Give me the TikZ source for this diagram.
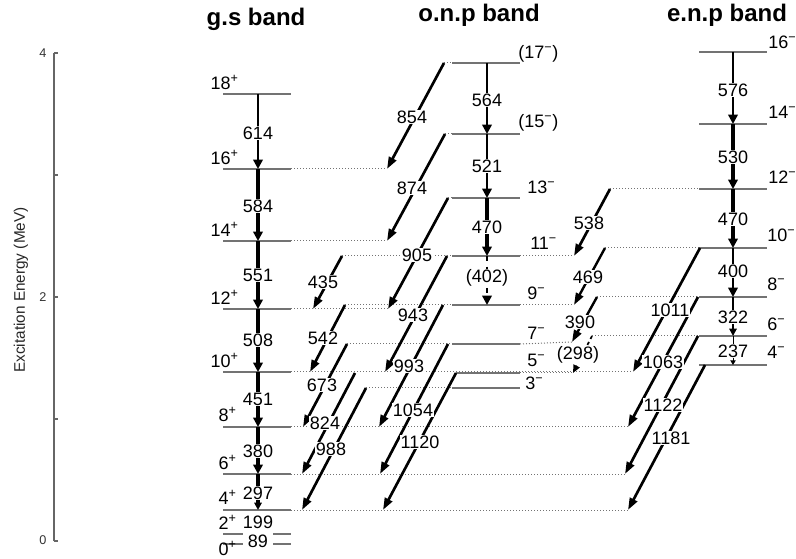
\documentclass[tikz,border=0pt]{standalone}
\usepackage{fontspec}
\setmainfont{Liberation Sans}
\usetikzlibrary{arrows.meta}
\newcommand{\spinp}{\textsuperscript{+}}
\newcommand{\spinm}{\textsuperscript{−}}
\begin{document}
\begin{tikzpicture}[x=0.75pt,y=-0.75pt,
  lev/.style={draw=black!55, line width=0.9pt},
  dots/.style={draw=black!55, line width=0.75pt, dash pattern=on 0.75pt off 1.5pt},
  inb/.style={draw=black, line width=#1, -{Triangle[length=7pt,width=7pt]}},
  inbm/.style={draw=black, line width=#1, -{Triangle[length=5.5pt,width=5.5pt]}},
  inbs/.style={draw=black, line width=#1, -{Triangle[length=3.5pt,width=4pt]}},
  xb/.style={draw=black, line width=2pt, -{Triangle[length=9pt,width=6pt]}},
  num/.style={font=\fontsize{13.5}{14}\selectfont, fill=white, inner sep=0.8pt},
  numc/.style={font=\fontsize{13.5}{14}\selectfont, inner sep=0pt},
  spinl/.style={font=\fontsize{13.5}{14}\selectfont, inner sep=0pt, anchor=east},
  spinr/.style={font=\fontsize{13.5}{14}\selectfont, inner sep=0pt, anchor=west},
  ttl/.style={font=\fontsize{18}{20}\selectfont\bfseries, inner sep=0pt, anchor=base},
  axisline/.style={draw=black!60, line width=0.8pt},
  tlab/.style={font=\fontsize{9.5}{10}\selectfont, text=black!80, inner sep=0pt},
]
\useasboundingbox (0,0) rectangle (796,559);
\fill[white] (0,0) rectangle (796,559);

% ---------- axis ----------
\coordinate (ax0) at (54,541);
\coordinate (ax4) at (54,53);
\draw[axisline] (ax0) -- (ax4);
\foreach \y in {53,175,297,419,541} \draw[axisline] (54,\y) -- (58,\y);
\node[tlab] (t4) at (43,53) {4};
\node[tlab] (t2) at (43,297) {2};
\node[tlab] (t0) at (43,540) {0};
\node[rotate=90, font=\fontsize{11.5}{12}\selectfont, text=black!85] (ylab) at (21,290) {Excitation Energy (MeV)};

% ---------- titles ----------
\node[ttl] (tg) at (256,26) {g.s band};
\node[ttl] (to) at (479,22) {o.n.p band};
\node[ttl] (te) at (727,22) {e.n.p band};

% ---------- level coordinates ----------
\foreach \n/\y in {G18/94,G16/169,G14/241,G12/309,G10/372,G8/427,G6/474,G4/510,G2/534,G0/544}
  {\coordinate (\n-L) at (223,\y); \coordinate (\n-R) at (291,\y); \coordinate (\n-M) at (258,\y);}
\foreach \n/\y in {O17/63,O15/134,O13/198,O11/256,O9/305,O7/344,O5/373,O3/388}
  {\coordinate (\n-L) at (452,\y); \coordinate (\n-R) at (520,\y); \coordinate (\n-M) at (487,\y);}
\foreach \n/\y in {E16/52,E14/124,E12/189,E10/248,E8/297,E6/336,E4/365}
  {\coordinate (\n-L) at (699,\y); \coordinate (\n-R) at (767,\y); \coordinate (\n-M) at (733,\y);}

% ---------- interband arrow end points ----------
\coordinate (s854) at (444,63);   \coordinate (e854) at (387,169);
\coordinate (s874) at (445,134);  \coordinate (e874) at (387,241);
\coordinate (s905) at (448,198);  \coordinate (e905) at (388,309);
\coordinate (s943) at (447,256);  \coordinate (e943) at (385,372);
\coordinate (s993) at (443,305);  \coordinate (e993) at (379,427);
\coordinate (s1054) at (448,344); \coordinate (e1054) at (380,474);
\coordinate (s1120) at (456,373); \coordinate (e1120) at (383,510);
\coordinate (s435) at (342,256);  \coordinate (e435) at (313,309);
\coordinate (s542) at (345,305);  \coordinate (e542) at (310,372);
\coordinate (s673) at (347,344);  \coordinate (e673) at (303,427);
\coordinate (s824) at (355,373);  \coordinate (e824) at (302,474);
\coordinate (s988) at (366,388);  \coordinate (e988) at (302,510);
\coordinate (s538) at (610,189);  \coordinate (e538) at (574,256);
\coordinate (s469) at (605,248);  \coordinate (e469) at (574,305);
\coordinate (s390) at (597,297);  \coordinate (e390) at (572,342);
\coordinate (s298) at (592,336);  \coordinate (e298) at (573,373);
\coordinate (s1011) at (700,248); \coordinate (e1011) at (633,372);
\coordinate (s1063) at (698,297); \coordinate (e1063) at (628,427);
\coordinate (s1122) at (698,336); \coordinate (e1122) at (625,474);
\coordinate (s1181) at (705,365); \coordinate (e1181) at (628,510);

% ---------- dotted extensions ----------
\draw[dots] (G16-R) -- (e854);
\draw[dots] (G14-R) -- (e874);
\draw[dots] (G12-R) -- (e905);
\draw[dots] (G10-R) -- (e1011);
\draw[dots] (G8-R) -- (e1063);
\draw[dots] (G6-R) -- (e1122);
\draw[dots] (G4-R) -- (e1181);
\draw[dots] (s854) -- (O17-L);
\draw[dots] (s874) -- (O15-L);
\draw[dots] (s905) -- (O13-L);
\draw[dots] (s435) -- (O11-L);
\draw[dots] (s542) -- (O9-L);
\draw[dots] (s673) -- (O7-L);
\draw[dots] (s988) -- (O3-L);
\draw[dots] (O11-R) -- (e538);
\draw[dots] (O9-R) -- (e469);
\draw[dots] (O7-R) -- (e390);
\draw[dots] (O5-R) -- (e298);
\draw[dots] (s538) -- (E12-L);
\draw[dots] (s469) -- (E10-L);
\draw[dots] (s390) -- (E8-L);
\draw[dots] (s298) -- (E6-L);

% ---------- level lines ----------
\foreach \n in {G18,G16,G14,G12,G10,G8,G6,G4} \draw[lev] (\n-L) -- (\n-R);
\draw[lev] (G2-L) -- (243,534);
\draw[lev] (273,534) -- (G2-R);
\draw[lev] (G0-L) -- (243,544);
\draw[lev] (273,544) -- (G0-R);
\foreach \n in {O17,O15,O13,O11,O9,O7,O3} \draw[lev] (\n-L) -- (\n-R);
\draw[lev] (s1120) -- (O5-R);
\foreach \n in {E16,E14,E12,E10,E8,E6,E4} \draw[lev] (\n-L) -- (\n-R);

% ---------- in-band transitions ----------
\draw[inb=2.2pt] (G18-M) -- (G16-M);
\draw[inb=2.6pt] (G16-M) -- (G14-M);
\draw[inb=3pt] (G14-M) -- (G12-M);
\draw[inb=3pt] (G12-M) -- (G10-M);
\draw[inb=3pt] (G10-M) -- (G8-M);
\draw[inb=2.8pt] (G8-M) -- (G6-M);
\draw[inbm=2.4pt] (G6-M) -- (G4-M);

\draw[inb=2.2pt] (O17-M) -- (O15-M);
\draw[inb=2.2pt] (O15-M) -- (O13-M);
\draw[inb=2.4pt] (O13-M) -- (O11-M);
\draw[inb=1.8pt, dash pattern=on 4pt off 4pt] (O11-M) -- (O9-M);

\draw[inb=1.8pt] (E16-M) -- (E14-M);
\draw[inb=2.6pt] (E14-M) -- (E12-M);
\draw[inb=3pt] (E12-M) -- (E10-M);
\draw[inb=2.2pt] (E10-M) -- (E8-M);
\draw[inbm=1.8pt] (E8-M) -- (E6-M);
\draw[inbs=0.75pt] (E6-M) -- (E4-M);

% ---------- interband transitions ----------
\foreach \t in {854,874,905,943,993,1054,1120,435,542,673,824,988,538,1011,1063,1122,1181}
  \draw[xb] (s\t) -- (e\t);
\draw[xb, line width=1.8pt] (s469) -- (e469);
\draw[xb, line width=1.8pt] (s390) -- (e390);
\draw[xb, line width=1.3pt, -{Triangle[length=6pt,width=5pt]}, dash pattern=on 2.5pt off 2.5pt] (s298) -- (e298);

% ---------- transition labels ----------
\node[num] (l614) at (258,133) {614};
\node[num] (l584) at (258,206) {584};
\node[num] (l551) at (258,275) {551};
\node[num] (l508) at (258,340) {508};
\node[num] (l451) at (258,399) {451};
\node[num] (l380) at (258,451) {380};
\node[num] (l297) at (258,493) {297};
\node[numc] (l199) at (258,522) {199};
\node[numc] (l89) at (258,541) {89};

\node[num] (l564) at (487,100) {564};
\node[num] (l521) at (487,166) {521};
\node[num] (l470o) at (487,227) {470};
\node[num] (l402) at (487,278) {(402)};

\node[num] (l576) at (733,90) {576};
\node[num] (l530) at (733,157) {530};
\node[num] (l470e) at (733,219) {470};
\node[num] (l400) at (733,271) {400};
\node[num] (l322) at (733,317) {322};
\node[num] (l237) at (733,351) {237};

\node[num] (l854) at (412,117) {854};
\node[num] (l874) at (412,188) {874};
\node[num] (l905) at (417,255) {905};
\node[num] (l943) at (413,315) {943};
\node[num] (l993) at (409,366) {993};
\node[num] (l1054) at (413,410) {1054};
\node[num] (l1120) at (420,442) {1120};
\node[num] (l435) at (323,282) {435};
\node[num] (l542) at (323,338) {542};
\node[num] (l673) at (322,385) {673};
\node[num] (l824) at (325,423) {824};
\node[num] (l988) at (331,449) {988};
\node[num] (l538) at (589,223) {538};
\node[num] (l469) at (588,277) {469};
\node[num] (l390) at (580,322) {390};
\node[num] (l298) at (578,355) {(298)};
\node[num] (l1011) at (670,310) {1011};
\node[num] (l1063) at (663,362) {1063};
\node[num] (l1122) at (663,405) {1122};
\node[num] (l1181) at (671,438) {1181};

% ---------- spin labels ----------
\node[spinl] (sG18) at (239,82) {18\spinp};
\node[spinl] (sG16) at (239,157) {16\spinp};
\node[spinl] (sG14) at (239,229) {14\spinp};
\node[spinl] (sG12) at (239,297) {12\spinp};
\node[spinl] (sG10) at (239,360) {10\spinp};
\node[spinl] (sG8) at (237,414) {8\spinp};
\node[spinl] (sG6) at (237,462) {6\spinp};
\node[spinl] (sG4) at (237,497) {4\spinp};
\node[spinl] (sG2) at (237,522) {2\spinp};
\node[spinl] (sG0) at (237,548) {0\spinp};

\node[spinr] (sO17) at (518,54) {(17\spinm)};
\node[spinr] (sO15) at (518,123) {(15\spinm)};
\node[spinr] (sO13) at (527,187) {13\spinm};
\node[spinr] (sO11) at (530,243) {11\spinm};
\node[spinr] (sO9) at (527,293) {9\spinm};
\node[spinr] (sO7) at (527,333) {7\spinm};
\node[spinr] (sO5) at (527,360) {5\spinm};
\node[spinr] (sO3) at (525,383) {3\spinm};

\node[spinr] (sE16) at (768,42) {16\spinm};
\node[spinr] (sE14) at (768,112) {14\spinm};
\node[spinr] (sE12) at (768,177) {12\spinm};
\node[spinr] (sE10) at (767,235) {10\spinm};
\node[spinr] (sE8) at (767,284) {8\spinm};
\node[spinr] (sE6) at (767,324) {6\spinm};
\node[spinr] (sE4) at (767,352) {4\spinm};
\end{tikzpicture}
\end{document}
